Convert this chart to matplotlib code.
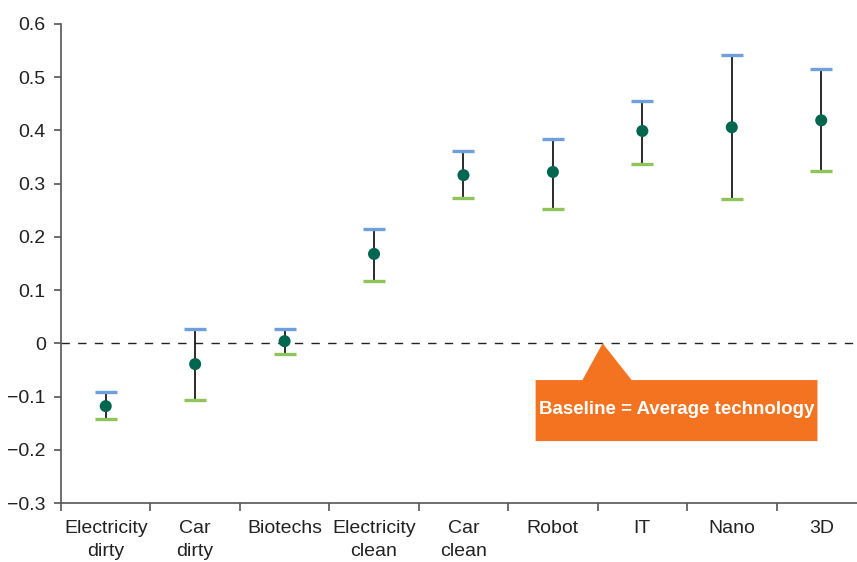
import matplotlib
matplotlib.use("Agg")
import matplotlib.pyplot as plt
from matplotlib.patches import Polygon
import numpy as np

plt.rcParams['font.family'] = ['Liberation Sans', 'DejaVu Sans']

categories = ["Electricity\ndirty", "Car\ndirty", "Biotechs", "Electricity\nclean",
              "Car\nclean", "Robot", "IT", "Nano", "3D"]
estimate = [-0.118, -0.039, 0.004, 0.168, 0.316, 0.322, 0.399, 0.406, 0.419]
upper = [-0.091, 0.027, 0.027, 0.215, 0.361, 0.384, 0.455, 0.542, 0.515]
lower = [-0.143, -0.106, -0.020, 0.117, 0.273, 0.252, 0.337, 0.271, 0.324]
yticks = [-0.3, -0.2, -0.1, 0, 0.1, 0.2, 0.3, 0.4, 0.5, 0.6]
ytick_labels = ["\u22120.3", "\u22120.2", "\u22120.1", "0", "0.1", "0.2", "0.3", "0.4", "0.5", "0.6"]
note = "Baseline = Average technology"

fig = plt.figure(figsize=(8.57, 5.62), dpi=100)
ax = fig.add_axes([61/857, 59/562, 1 - 61/857, (503-24)/562])

x = np.arange(len(categories))
est = np.array(estimate); up = np.array(upper); lo = np.array(lower)

ax.axhline(0, color="#222222", lw=1.0, ls=(0, (6, 6)), zorder=1)
ax.vlines(x, lo, up, color="#1a1a1a", lw=1.3, zorder=2)
ax.scatter(x, up, marker="_", s=260, color="#6fa0dc", linewidths=2.4, zorder=3)
ax.scatter(x, lo, marker="_", s=260, color="#8fc45a", linewidths=2.4, zorder=3)
ax.scatter(x, est, s=75, color="#00664f", zorder=4, edgecolors="none")

ax.set_xlim(-0.5, 8.4)
ax.set_ylim(-0.3, 0.6)
ax.set_yticks(yticks)
ax.set_yticklabels(ytick_labels)
ax.set_xticks(x)
ax.set_xticklabels(categories, linespacing=1.5)
ax.set_xticks(np.arange(len(categories)) - 0.5, minor=True)
ax.tick_params(axis="x", which="major", length=0, pad=12, labelsize=14, colors="#222222")
ax.tick_params(axis="x", which="minor", length=6, width=1.2, color="#555555")
ax.tick_params(axis="y", length=5, width=1.2, color="#555555", labelsize=14, labelcolor="#222222", pad=6)
for s in ["top", "right"]:
    ax.spines[s].set_visible(False)
for s in ["left", "bottom"]:
    ax.spines[s].set_color("#555555")
    ax.spines[s].set_linewidth(1.2)

orange = "#f47321"
box = Polygon([(4.807, -0.069), (5.33, -0.069), (5.556, 0.0), (5.88, -0.069),
               (7.958, -0.069), (7.958, -0.1836), (4.807, -0.1836)],
              closed=True, facecolor=orange, edgecolor="none", zorder=5)
ax.add_patch(box)
ax.text(6.382, -0.125, note, color="white", fontsize=13.5, fontweight="bold",
        ha="center", va="center", zorder=6)

fig.savefig("out.png", dpi=100)
